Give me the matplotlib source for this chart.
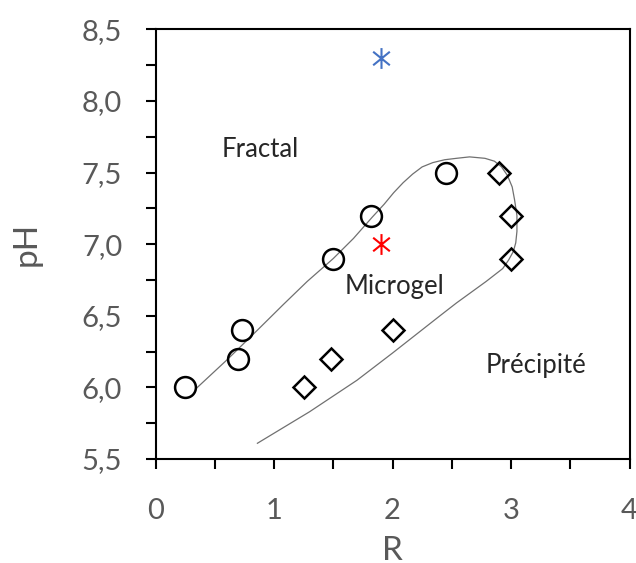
import matplotlib.pyplot as plt
from matplotlib.path import Path
from matplotlib.ticker import MultipleLocator, FuncFormatter

plt.rcParams['font.family'] = ['Lato', 'DejaVu Sans']

# measured points
circle_R = [0.25, 0.70, 0.73, 1.50, 1.82, 2.45]
circle_pH = [6.0, 6.2, 6.4, 6.9, 7.2, 7.5]
diamond_R = [1.25, 1.48, 2.00, 3.00, 3.00, 2.90]
diamond_pH = [6.0, 6.2, 6.4, 6.9, 7.2, 7.5]
star_blue_R = [1.90]
star_blue_pH = [8.30]
star_red_R = [1.90]
star_red_pH = [7.00]

# boundary drawn by hand round the microgel zone
boundary_R = [0.34, 0.60, 0.86, 1.08, 1.28, 1.50, 1.67, 1.83, 1.93, 2.01, 2.09,
              2.17, 2.25, 2.34, 2.44, 2.54, 2.65, 2.78, 2.86, 2.92, 2.97, 3.01,
              3.03, 3.05, 3.05, 3.04, 3.02, 2.98, 2.93, 2.79, 2.54, 2.40, 2.20,
              2.00, 1.70, 1.30, 0.86]
boundary_pH = [5.99, 6.19, 6.40, 6.58, 6.74, 6.90, 7.04, 7.19, 7.28, 7.36, 7.43,
               7.49, 7.54, 7.57, 7.59, 7.60, 7.61, 7.60, 7.58, 7.54, 7.48, 7.40,
               7.31, 7.20, 7.09, 7.01, 6.95, 6.89, 6.83, 6.74, 6.59, 6.50, 6.37,
               6.24, 6.05, 5.83, 5.61]

zone_labels = ['Fractal', 'Microgel', 'Précipité']
zone_R = [0.88, 2.02, 3.21]
zone_pH = [7.61, 6.65, 6.10]

# asterisk like the one Excel uses: an X with a vertical bar
star = Path([(0, -1), (0, 1), (-0.8, -0.65), (0.8, 0.65), (-0.8, 0.65), (0.8, -0.65)],
            [Path.MOVETO, Path.LINETO, Path.MOVETO, Path.LINETO, Path.MOVETO, Path.LINETO])

fig = plt.figure(figsize=(6.36, 5.63), dpi=100)
ax = fig.add_axes([0.2445, 0.1847, 0.7453, 0.763])

ax.plot(boundary_R, boundary_pH, color='#707070', lw=0.9)
ax.plot(circle_R, circle_pH, 'o', ms=15, mfc='none', mec='black', mew=1.8)
ax.plot(diamond_R, diamond_pH, 'D', ms=11.5, mfc='none', mec='black', mew=1.8)
ax.plot(star_blue_R, star_blue_pH, ls='none', marker=star, ms=15, mec='#4472C4', mew=1.5)
ax.plot(star_red_R, star_red_pH, ls='none', marker=star, ms=15, mec='#FF0000', mew=1.5)

for label, r, p in zip(zone_labels, zone_R, zone_pH):
    ax.text(r, p, label, fontsize=18.5, color='#262626', ha='center', va='baseline')

ax.set_xlim(0, 4)
ax.set_ylim(5.5, 8.5)
ax.xaxis.set_major_locator(MultipleLocator(1))
ax.xaxis.set_minor_locator(MultipleLocator(0.5))
ax.yaxis.set_major_locator(MultipleLocator(0.5))
ax.yaxis.set_minor_locator(MultipleLocator(0.25))
ax.yaxis.set_major_formatter(FuncFormatter(lambda v, pos: f'{v:.1f}'.replace('.', ',')))

for s in ax.spines.values():
    s.set_linewidth(1.5)
ax.tick_params(which='both', direction='out', length=7, width=1.5, colors='black',
               top=False, right=False)
ax.tick_params(which='major', labelsize=21, labelcolor='#595959')
ax.tick_params(axis='y', which='major', pad=17)
ax.tick_params(axis='x', which='major', pad=21)

ax.set_xlabel('R', fontsize=24, color='#595959', labelpad=9)
ax.set_ylabel('pH', fontsize=24, color='#595959', labelpad=29)

fig.savefig('out.png', dpi=100)
